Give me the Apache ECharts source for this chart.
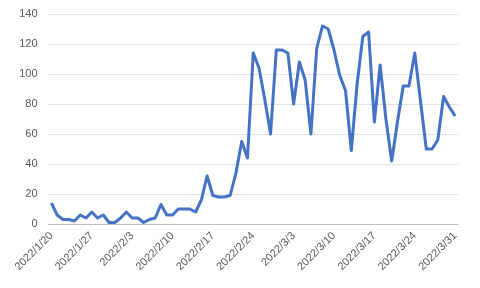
<!DOCTYPE html>
<html><head><meta charset="utf-8">
<script src="https://cdn.jsdelivr.net/npm/echarts@6/dist/echarts.min.js"></script>
<style>html,body{margin:0;padding:0;background:#fff}#c{width:480px;height:288px}</style>
</head><body><div id="c"></div>
<script>
var dates = [
"2022/1/20","2022/1/21","2022/1/22","2022/1/23","2022/1/24","2022/1/25","2022/1/26",
"2022/1/27","2022/1/28","2022/1/29","2022/1/30","2022/1/31","2022/2/1","2022/2/2",
"2022/2/3","2022/2/4","2022/2/5","2022/2/6","2022/2/7","2022/2/8","2022/2/9",
"2022/2/10","2022/2/11","2022/2/12","2022/2/13","2022/2/14","2022/2/15","2022/2/16",
"2022/2/17","2022/2/18","2022/2/19","2022/2/20","2022/2/21","2022/2/22","2022/2/23",
"2022/2/24","2022/2/25","2022/2/26","2022/2/27","2022/2/28","2022/3/1","2022/3/2",
"2022/3/3","2022/3/4","2022/3/5","2022/3/6","2022/3/7","2022/3/8","2022/3/9",
"2022/3/10","2022/3/11","2022/3/12","2022/3/13","2022/3/14","2022/3/15","2022/3/16",
"2022/3/17","2022/3/18","2022/3/19","2022/3/20","2022/3/21","2022/3/22","2022/3/23",
"2022/3/24","2022/3/25","2022/3/26","2022/3/27","2022/3/28","2022/3/29","2022/3/30",
"2022/3/31"];
var values = [
14,6,3,3,2,6,4,8,4,6,1,1,4,8,
4,4,1,3,4,13,6,6,10,10,10,8,16,32,
19,18,18,19,34,55,44,114,104,83,60,116,116,114,
80,108,96,60,117,132,130,116,99,89,49,93,125,128,
68,106,70,42,68,92,92,114,82,50,50,56,85,78,
72];
var yTicks = [0,20,40,60,80,100,120,140];

var chart = echarts.init(document.getElementById('c'), null, {renderer:'canvas'});
chart.setOption({
  animation:false,
  grid:{left:48.5,right:22,top:14,bottom:64,containLabel:false},
  xAxis:{
    type:'category', data:dates, boundaryGap:true,
    axisLine:{lineStyle:{color:'#bfbfbf',width:1}},
    axisTick:{interval:6,length:5,lineStyle:{color:'#bfbfbf'}},
    axisLabel:{interval:6,rotate:45,color:'#595959',fontSize:11,fontFamily:'Liberation Sans',margin:10},
    splitLine:{show:false}
  },
  yAxis:{
    type:'value', min:yTicks[0], max:yTicks[yTicks.length-1], interval:20,
    axisLine:{show:false}, axisTick:{show:false},
    axisLabel:{color:'#595959',fontSize:11,fontFamily:'Liberation Sans',margin:11},
    splitLine:{lineStyle:{color:'#d9d9d9',width:1,type:[3,1]}}
  },
  series:[{
    type:'line', data:values, symbol:'none', smooth:false,
    lineStyle:{color:'#4472C4',width:3,join:'round'}
  }]
});
</script></body></html>
